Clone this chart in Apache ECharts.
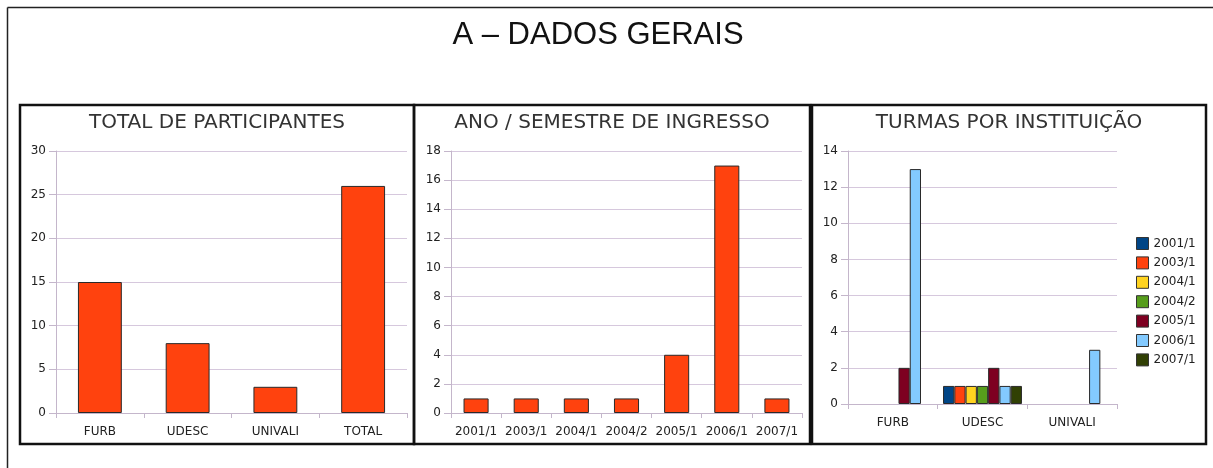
<!DOCTYPE html>
<html>
<head>
<meta charset="utf-8">
<title>A – DADOS GERAIS</title>
<script src="https://cdn.jsdelivr.net/npm/echarts@6/dist/echarts.min.js"></script>
<style>
  html, body { margin: 0; padding: 0; background: #fff; }
  #main { width: 1213px; height: 468px; }
</style>
</head>
<body>
<div id="main"></div>
<script>
  // dados
  const participantCats = ['FURB', 'UDESC', 'UNIVALI', 'TOTAL']
  const participantVals = [15, 8, 3, 26]

  const semesterCats = ['2001/1', '2003/1', '2004/1', '2004/2', '2005/1', '2006/1', '2007/1']
  const semesterVals = [1, 1, 1, 1, 4, 17, 1]

  const institutionCats = ['FURB', 'UDESC', 'UNIVALI']
  // turmas por semestre, na ordem de institutionCats (null = sem barra)
  const turma2001_1 = [null, 1, null]
  const turma2003_1 = [null, 1, null]
  const turma2004_1 = [null, 1, null]
  const turma2004_2 = [null, 1, null]
  const turma2005_1 = [2, 2, null]
  const turma2006_1 = [13, 1, 3]
  const turma2007_1 = [null, 1, null]

  const turmaSeries = [
    { name: '2001/1', data: turma2001_1, color: '#004586' },
    { name: '2003/1', data: turma2003_1, color: '#ff420e' },
    { name: '2004/1', data: turma2004_1, color: '#ffd320' },
    { name: '2004/2', data: turma2004_2, color: '#579d1c' },
    { name: '2005/1', data: turma2005_1, color: '#7e0021' },
    { name: '2006/1', data: turma2006_1, color: '#83caff' },
    { name: '2007/1', data: turma2007_1, color: '#314004' }
  ]

  const gridColor = '#d6c8dd'
  const axisColor = '#c4b6cb'
  const labelFont = { fontFamily: 'DejaVu Sans', fontSize: 12, color: '#222' }

  function yAxisFor(gridIndex, max, interval) {
    return {
      type: 'value', gridIndex, min: 0, max, interval,
      axisLine: { show: true, lineStyle: { color: axisColor } },
      axisTick: { show: true, length: 7, lineStyle: { color: axisColor } },
      splitLine: { lineStyle: { color: gridColor } },
      axisLabel: Object.assign({ margin: 10 }, labelFont)
    }
  }

  function xAxisFor(gridIndex, data) {
    return {
      type: 'category', gridIndex, data,
      axisLine: { lineStyle: { color: axisColor } },
      axisTick: { show: true, length: 5, lineStyle: { color: axisColor } },
      axisLabel: Object.assign({ margin: 13, interval: 0 }, labelFont)
    }
  }

  const barBorder = { borderColor: '#2a2a2a', borderWidth: 1 }

  const chart = echarts.init(document.getElementById('main'))
  chart.setOption({
    animation: false,
    grid: [
      { left: 56, top: 151, width: 351, height: 262 },
      { left: 451, top: 151, width: 351, height: 262 },
      { left: 848, top: 151, width: 269, height: 253 }
    ],
    xAxis: [
      xAxisFor(0, participantCats),
      xAxisFor(1, semesterCats),
      xAxisFor(2, institutionCats)
    ],
    yAxis: [
      yAxisFor(0, 30, 5),
      yAxisFor(1, 18, 2),
      yAxisFor(2, 14, 2)
    ],
    legend: {
      orient: 'vertical',
      left: 1131,
      top: 232,
      itemWidth: 12,
      itemHeight: 12,
      itemGap: 6.4,
      icon: 'rect',
      itemStyle: { borderColor: '#333', borderWidth: 1 },
      textStyle: labelFont,
      data: turmaSeries.map(s => s.name)
    },
    series: [
      {
        type: 'bar', xAxisIndex: 0, yAxisIndex: 0,
        barWidth: '50%',
        itemStyle: Object.assign({ color: '#ff420e' }, barBorder),
        data: participantVals
      },
      {
        type: 'bar', xAxisIndex: 1, yAxisIndex: 1,
        barWidth: '50%',
        itemStyle: Object.assign({ color: '#ff420e' }, barBorder),
        data: semesterVals
      }
    ].concat(turmaSeries.map(s => ({
      type: 'bar', name: s.name, xAxisIndex: 2, yAxisIndex: 2,
      barGap: 0, barCategoryGap: '12%',
      itemStyle: Object.assign({ color: s.color }, barBorder),
      data: s.data
    }))),
    graphic: [
      // moldura externa
      { type: 'line', shape: { x1: 7.5, y1: 7.5, x2: 1213, y2: 7.5 }, style: { stroke: '#222', lineWidth: 1.5 } },
      { type: 'line', shape: { x1: 7.5, y1: 7.5, x2: 7.5, y2: 468 }, style: { stroke: '#222', lineWidth: 1.5 } },
      // painéis
      { type: 'rect', shape: { x: 20, y: 105, width: 394, height: 339 }, style: { fill: 'none', stroke: '#111', lineWidth: 2.5 } },
      { type: 'rect', shape: { x: 414, y: 105, width: 396, height: 339 }, style: { fill: 'none', stroke: '#111', lineWidth: 2.5 } },
      { type: 'rect', shape: { x: 812, y: 105, width: 394, height: 339 }, style: { fill: 'none', stroke: '#111', lineWidth: 2.5 } },
      // títulos
      { type: 'text', x: 598, y: 35, style: { text: 'A – DADOS GERAIS', font: '31px "Liberation Sans"', fill: '#111', textAlign: 'center', textVerticalAlign: 'middle' } },
      { type: 'text', x: 217, y: 123, style: { text: 'TOTAL DE PARTICIPANTES', font: '20px "DejaVu Sans"', fill: '#333', textAlign: 'center', textVerticalAlign: 'middle' } },
      { type: 'text', x: 612, y: 123, style: { text: 'ANO / SEMESTRE DE INGRESSO', font: '20px "DejaVu Sans"', fill: '#333', textAlign: 'center', textVerticalAlign: 'middle' } },
      { type: 'text', x: 1009, y: 123, style: { text: 'TURMAS POR INSTITUIÇÃO', font: '20px "DejaVu Sans"', fill: '#333', textAlign: 'center', textVerticalAlign: 'middle' } }
    ]
  })
</script>
</body>
</html>
